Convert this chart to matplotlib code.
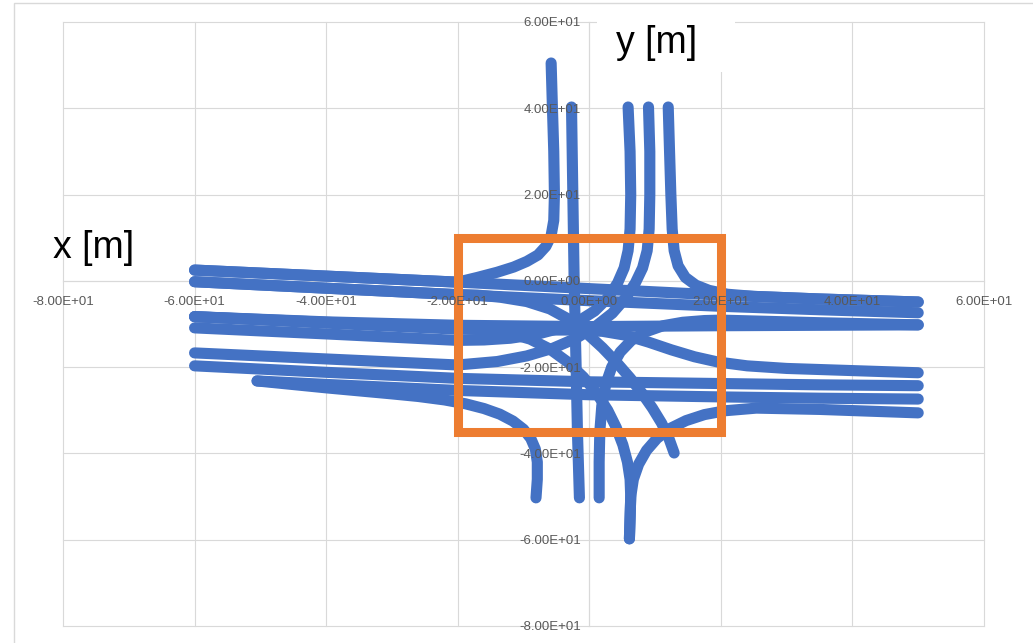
import matplotlib
matplotlib.use("Agg")
import matplotlib.pyplot as plt
from matplotlib.patches import Rectangle
from matplotlib.ticker import FuncFormatter, MultipleLocator

# vehicle trajectories, x [m] / y [m]
# straight through (west <-> east)
h1 = ([-60, -40, -20, 0, 20, 35, 50], [2.5, 1.1, -0.3, -1.8, -3.3, -4.2, -4.9])
h2 = ([-60, -40, -20, 0, 20, 35, 50], [-0.2, -1.7, -3.2, -4.6, -5.9, -6.7, -7.4])
h3 = ([-60, -40, -20, 0, 20, 35, 50], [-8.3, -9.5, -10.3, -10.6, -10.4, -10.3, -10.2])
h4 = ([-60, -40, -20, 0, 20, 35, 50], [-19.7, -21.2, -22.6, -23.4, -23.8, -24.1, -24.3])
h5 = ([-50.5, -40, -20, 0, 20, 35, 50], [-23.2, -24.0, -25.4, -26.4, -26.9, -27.2, -27.4])

# north arms
c1 = ([-5.8, -5.6, -5.4, -5.3, -5.4, -5.8, -6.6, -7.8, -9.5, -11.5, -14, -17, -20, -40, -60],
      [50.5, 40, 30, 20, 14, 10.5, 8, 6, 4.5, 3.2, 2.0, 0.8, -0.3, 1.1, 2.5])
c2 = ([-2.7, -2.5, -2.3, -2.0, -1.8, -1.5], [40.3, 20, 0, -20, -35, -50.3])
c3 = ([5.9, 6.2, 6.3, 6.2, 5.9, 5.3, 4.3, 2.8, 0.8, -1.5, -4.5, -8, -12, -16, -20, -40, -60],
      [40.3, 30, 20, 12, 7, 3, -0.5, -4, -7, -9.2, -11, -12.4, -13.3, -13.7, -13.8, -12.3, -10.9])
c4 = ([9.0, 9.2, 9.2, 9.1, 8.8, 8.1, 7.0, 5.5, 3.5, 1, -2, -5.5, -9.5, -14, -20, -40, -60],
      [40.3, 30, 20, 12, 7, 3, -0.5, -4, -7.5, -10.5, -13.3, -15.6, -17.4, -18.7, -19.5, -18.1, -16.7])
c5 = ([12.0, 12.2, 12.4, 12.6, 12.9, 13.5, 14.6, 16.2, 18.2, 21, 25, 35, 50],
      [40.3, 30, 20, 12, 7, 3.5, 0.8, -1.0, -2.2, -3.1, -3.6, -4.2, -4.9])

# south arms
c6 = ([-8.1, -7.9, -7.9, -8.2, -8.9, -10.0, -11.6, -13.6, -16, -18.8, -22, -26, -30, -40, -50.5],
      [-50.3, -46, -42, -39, -36.5, -34.4, -32.5, -30.9, -29.6, -28.5, -27.6, -26.8, -26.2, -24.8, -23.2])
d1 = ([12.9, 12.1, 11.0, 9.6, 8, 6.2, 4.2, 2, -0.5, -3, -6, -9.5, -13.5, -17, -20, -40, -60],
      [-39.9, -36.5, -33, -29.5, -26, -22.5, -19, -15.5, -12, -9, -6.5, -4.8, -3.8, -3.3, -3.2, -1.7, -0.2])
d2a = ([6.1, 6.2, 6.3, 6.7, 7.5, 8.7, 10.3, 12.3, 14.7, 17.5, 20.7, 25.4, 35, 50],
       [-59.8, -55, -50, -46, -42.5, -39.3, -36.5, -34.2, -32.4, -31, -30.1, -29.5, -29.8, -30.6])
d2b = ([6.1, 6.2, 6.3, 6.2, 5.8, 5.1, 4.1, 2.8, 1.1, -0.9, -3.3, -6, -9, -12.5, -16, -20, -40, -60],
       [-59.8, -55, -50, -46, -42, -38, -34, -30, -26, -22.3, -18.8, -15.8, -13.5, -12.0, -11.3, -11.0, -9.6, -8.3])
e1 = ([1.5, 1.5, 1.6, 1.9, 2.5, 3.4, 4.7, 6.4, 8.6, 11.2, 14.2, 17.5, 20, 35, 50],
      [-50.3, -42, -35, -29, -24, -20, -16.5, -13.8, -11.8, -10.4, -9.6, -9.2, -9.1, -9.7, -10.2])
e2 = ([-60, -40, -20, -10, -2, 2, 5.5, 9, 12.5, 16, 19.5, 24, 30, 40, 50],
      [-8.3, -9.8, -11.2, -11.4, -11.4, -11.7, -12.6, -14.2, -16.0, -17.6, -18.8, -19.7, -20.3, -20.8, -21.3])

paths = [h1, h2, h3, h4, h5, c1, c2, c3, c4, c5, c6, d1, d2a, d2b, e1, e2]

# conflict zone (orange box)
zone_x = [-20, 20]
zone_y = [-35, 10]

ticks = [-80, -60, -40, -20, 0, 20, 40, 60]

BLUE = '#4472C4'
ORANGE = '#ED7D31'
GRID = '#D9D9D9'
TXT = '#595959'

fig = plt.figure(figsize=(10.33, 6.43), dpi=100)
ax = fig.add_axes([63 / 1033, 1 - 626 / 643, (984 - 63) / 1033, (626 - 22) / 643])

for xs, ys in paths:
    ax.plot(xs, ys, color=BLUE, lw=8, solid_capstyle='round',
            solid_joinstyle='round', zorder=2)

ax.add_patch(Rectangle((zone_x[0], zone_y[0]), zone_x[1] - zone_x[0], zone_y[1] - zone_y[0],
                       fill=False, edgecolor=ORANGE, lw=6.5, zorder=2.2))

ax.set_xlim(ticks[0], ticks[-1])
ax.set_ylim(ticks[0], ticks[-1])

# excel style gridlines under the data
for t in ticks:
    ax.axvline(t, color=GRID, lw=0.8, zorder=0.3, clip_on=False)
    ax.axhline(t, color=GRID, lw=0.8, zorder=0.3, clip_on=False)

ax.set_axisbelow(False)
for s in ['top', 'right']:
    ax.spines[s].set_visible(False)
for s in ['left', 'bottom']:
    ax.spines[s].set_position(('data', 0))
    ax.spines[s].set_color(GRID)
    ax.spines[s].set_linewidth(0.8)
    ax.spines[s].set_zorder(0.4)

ax.xaxis.set_major_locator(MultipleLocator(20))
ax.yaxis.set_major_locator(MultipleLocator(20))
fmt = FuncFormatter(lambda v, p: f"{v:.2E}")
ax.xaxis.set_major_formatter(fmt)
ax.yaxis.set_major_formatter(fmt)
ax.tick_params(axis='x', length=0, pad=11, labelsize=9.5, labelcolor=TXT)
ax.tick_params(axis='y', length=0, pad=6, labelsize=9.5, labelcolor=TXT)
for lab in ax.get_xticklabels() + ax.get_yticklabels():
    lab.set_fontfamily('Liberation Sans')
ax.patch.set_alpha(0)

# outer chart frame
fig.patches.append(Rectangle((14 / 1033, -0.05), 1.2, 1 - 3 / 643 + 0.05, transform=fig.transFigure,
                             fill=False, edgecolor=GRID, lw=1.0, zorder=0))

# axis titles pasted on top
fig.patches.append(Rectangle((597 / 1033, 1 - 72 / 643), (735 - 597) / 1033, 60 / 643,
                             transform=fig.transFigure, facecolor='white', edgecolor='none', zorder=5))
fig.text(657 / 1033, 1 - 43 / 643, 'y [m]', ha='center', va='center', fontsize=27,
         family='Liberation Sans', zorder=6)
fig.text(94 / 1033, 1 - 248 / 643, 'x [m]', ha='center', va='center', fontsize=27,
         family='Liberation Sans', zorder=6)

fig.savefig('out.png', dpi=100)
